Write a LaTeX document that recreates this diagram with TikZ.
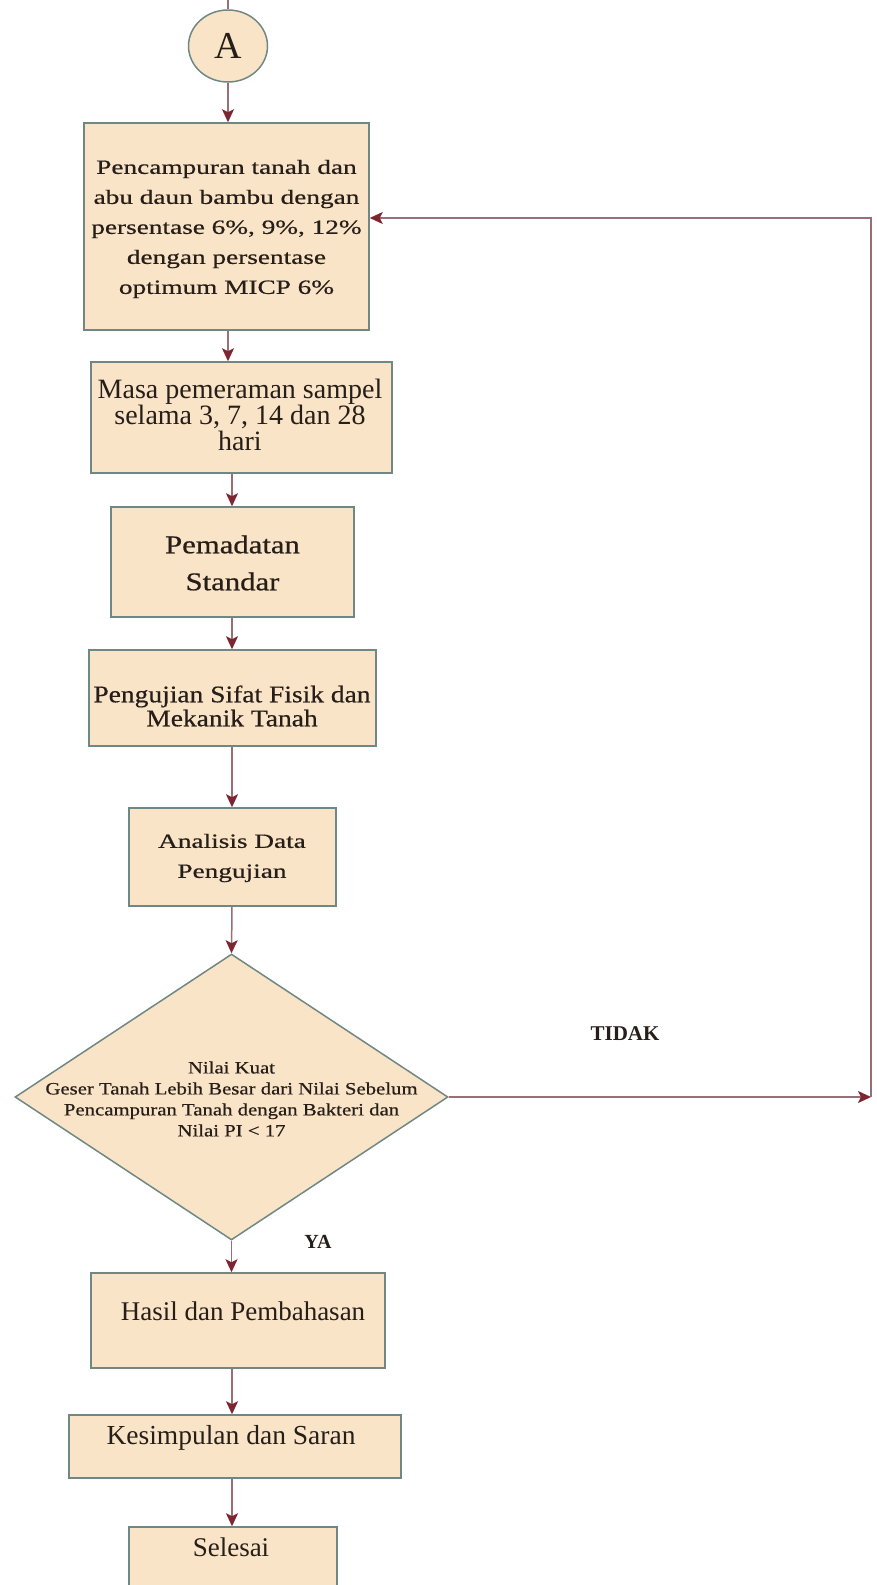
\documentclass[tikz,border=0pt]{standalone}
\usepackage{fontspec}
\setmainfont{Liberation Serif}
\newfontfamily\stA[FakeStretch=1.35,FakeBold=0.6]{Liberation Serif}
\newfontfamily\stB[FakeStretch=1.2,FakeBold=0.6]{Liberation Serif}
\newfontfamily\stC[FakeStretch=1.15,FakeBold=0.5]{Liberation Serif}
\usetikzlibrary{arrows.meta,shapes.geometric}
\definecolor{boxfill}{RGB}{250,228,200}
\definecolor{boxline}{RGB}{112,136,132}
\definecolor{conn}{RGB}{150,112,118}
\definecolor{tipc}{RGB}{125,38,50}
\definecolor{txt}{RGB}{38,30,24}
\tikzset{
  stepbox/.style={draw=boxline, fill=boxfill, line width=1.5pt, inner sep=0pt, rectangle},
  decbox/.style={draw=boxline, fill=boxfill, line width=1.5pt, inner sep=0pt, diamond},
  lbl/.style={text=txt, align=center, inner sep=0pt},
  arr/.style={draw=conn, line width=1.5pt, line join=miter,
    -{Stealth[length=13pt,width=12pt,inset=3pt,color=tipc]}},
  plain/.style={draw=conn, line width=1.5pt}
}
\begin{document}
\begin{tikzpicture}[x=1pt,y=-1pt]
\useasboundingbox (0,0) rectangle (876,1585);
\clip (0,0) rectangle (876,1585);
\fill[white] (0,0) rectangle (876,1585);

% shapes
\node[draw=boxline, fill=boxfill, line width=1.5pt, ellipse, inner sep=0pt,
      minimum width=79pt, minimum height=72pt, text=txt,
      font=\fontsize{38}{40}\selectfont] (A) at (228,46) {A};
\node[stepbox, minimum width=285pt, minimum height=207pt] (b1) at (226.5,226.5) {};
\node[stepbox, minimum width=301pt, minimum height=111pt] (b2) at (241.5,417.5) {};
\node[stepbox, minimum width=243pt, minimum height=110pt] (b3) at (232.5,562) {};
\node[stepbox, minimum width=287pt, minimum height=96pt] (b4) at (232.5,698) {};
\node[stepbox, minimum width=207pt, minimum height=98pt] (b5) at (232.5,857) {};
\node[decbox, minimum width=433pt, minimum height=286pt] (dia) at (231.5,1097) {};
\node[stepbox, minimum width=294pt, minimum height=95pt] (b6) at (238,1320.5) {};
\node[stepbox, minimum width=332pt, minimum height=63pt] (b7) at (235,1446.5) {};
\node[stepbox, minimum width=208pt, minimum height=73pt] (b8) at (233,1563.5) {};

% texts
\node[lbl, font={\stA\fontsize{20.2}{30}\selectfont}] (t1) at (226.5,229)
  {Pencampuran tanah dan\\abu daun bambu dengan\\persentase 6\%, 9\%, 12\%\\dengan persentase\\optimum MICP 6\%};
\node[lbl, font={\fontsize{28}{26}\selectfont}] (t2) at (240,415)
  {Masa pemeraman sampel\\selama 3, 7, 14 dan 28\\hari};
\node[lbl, font={\stB\fontsize{25.6}{37}\selectfont}] (t3) at (232.5,563)
  {Pemadatan\\Standar};
\node[lbl, font={\stC\fontsize{23.9}{24}\selectfont}] (t4) at (232,706)
  {Pengujian Sifat Fisik dan\\Mekanik Tanah};
\node[lbl, font={\stA\fontsize{20.2}{30}\selectfont}] (t5) at (232,858)
  {Analisis Data\\Pengujian};
\node[lbl, font={\stB\fontsize{17.3}{21}\selectfont}] (td) at (231.5,1099)
  {Nilai Kuat\\Geser Tanah Lebih Besar dari Nilai Sebelum\\Pencampuran Tanah dengan Bakteri dan\\Nilai PI < 17};
\node[lbl, font={\fontsize{27}{30}\selectfont}] (t6) at (243,1311) {Hasil dan Pembahasan};
\node[lbl, font={\fontsize{27.5}{30}\selectfont}] (t7) at (231,1438) {Kesimpulan dan Saran};
\node[lbl, font={\fontsize{27}{30}\selectfont}] (t8) at (231,1547) {Selesai};

\node[lbl, font={\bfseries\fontsize{21}{24}\selectfont}] (tidak) at (625,1034) {TIDAK};
\node[lbl, font={\bfseries\fontsize{20}{24}\selectfont}] (ya) at (318,1242) {YA};

% connectors
\coordinate (top) at (228,0);
\coordinate (ax) at (232,0);
\coordinate (fb) at (871,218);
\draw[plain] (top) -- (A.north);
\draw[arr] (A.south) -- (A.south |- b1.north);
\draw[arr] (b1.south -| A) -- (b2.north -| A);
\draw[arr] (b2.south -| ax) -- (b3.north -| ax);
\draw[arr] (b3.south -| ax) -- (b4.north -| ax);
\draw[arr] (b4.south -| ax) -- (b5.north -| ax);
\draw[arr] (b5.south -| ax) -- (dia.north);
\draw[arr] (dia.south) -- (dia.south |- b6.north);
\draw[arr] (b6.south -| ax) -- (b7.north -| ax);
\draw[arr] (b7.south -| ax) -- (b8.north -| ax);
\draw[arr] (dia.east) -- (dia.east -| fb);
\draw[arr] (dia.east -| fb) -- (fb) -- (fb -| b1.east);
\end{tikzpicture}
\end{document}
